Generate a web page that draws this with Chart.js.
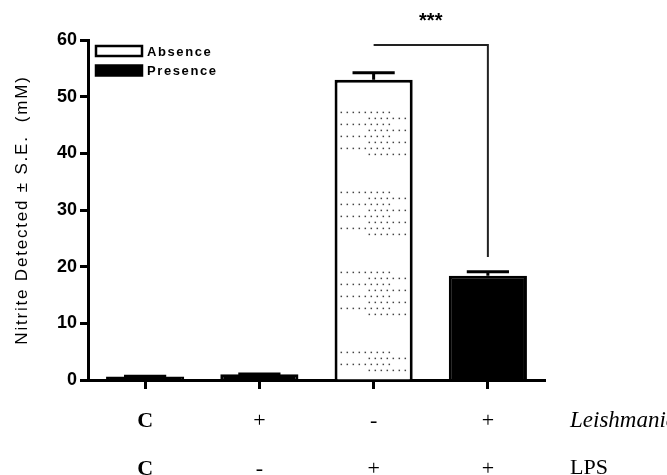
<!DOCTYPE html>
<html>
<head>
<meta charset="utf-8">
<script src="https://cdn.jsdelivr.net/npm/chart.js@4.4.0/dist/chart.umd.min.js"></script>
<style>
  body { margin: 0; background: #fff; }
  #wrap { width: 667px; height: 475px; }
</style>
</head>
<body>
<div id="wrap"><canvas id="myChart"></canvas></div>
<script>
// data
const leishmaniaRow = ["C", "+", "-", "+"];
const lpsRow = ["C", "-", "+", "+"];
const nitrite = [0.6, 1.0, 53.0, 18.4];
const nitriteSE = [0.05, 0.05, 1.2, 0.7];
const barFill = ["#000", "#000", "#fff", "#000"];
const yTicks = [0, 10, 20, 30, 40, 50, 60];
const rowNames = ["Leishmania", "LPS"];
const legendNames = ["Absence", "Presence"];
const legendFill = ["#fff", "#000"];
const signifFrom = 2, signifTo = 3, signifLevel = 59.1, signifDrop = 21.7;
const signifText = "***";

const labels = leishmaniaRow.map((v, i) => [v, lpsRow[i]]);

const extras = {
  id: "extras",
  afterDatasetsDraw(chart) {
    const c = chart.ctx;
    const x = chart.scales.x, y = chart.scales.y;
    const meta = chart.getDatasetMeta(0);
    c.save();

    // dotted fill of the white bar
    const b = meta.data[2];
    const left = b.x - b.width / 2 + 6, right = b.x + b.width / 2 - 6;
    const top = b.y + 3, bottom = b.base - 3;
    c.fillStyle = "#444";
    for (let band = top + 29; band < bottom; band += 80) {
      for (let r = 0; r < 8; r++) {
        const ry = band + r * 6;
        if (ry > bottom - 1) break;
        const x0 = r % 2 === 0 ? left : left + 28;
        const x1 = r % 2 === 0 ? right - 18 : right;
        for (let dx = x0; dx <= x1; dx += 6) c.fillRect(dx, ry, 1.5, 1.5);
      }
    }

    // error bars (upper only)
    c.strokeStyle = "#000";
    c.lineWidth = 3;
    nitrite.forEach((v, i) => {
      const bar = meta.data[i];
      const py = y.getPixelForValue(v + nitriteSE[i]);
      const half = bar.width * 0.27;
      c.beginPath();
      c.moveTo(bar.x, bar.y);
      c.lineTo(bar.x, py);
      c.moveTo(bar.x - half, py);
      c.lineTo(bar.x + half, py);
      c.stroke();
    });

    // significance bracket
    const sx0 = x.getPixelForValue(signifFrom), sx1 = x.getPixelForValue(signifTo);
    const sy = y.getPixelForValue(signifLevel), sy1 = y.getPixelForValue(signifDrop);
    c.strokeStyle = "#222";
    c.lineWidth = 2;
    c.beginPath();
    c.moveTo(sx0, sy);
    c.lineTo(sx1, sy);
    c.lineTo(sx1, sy1);
    c.stroke();
    c.fillStyle = "#000";
    c.font = "bold 20px Arial";
    c.textAlign = "center";
    c.textBaseline = "middle";
    c.fillText(signifText, (sx0 + sx1) / 2, sy - 24);

    // legend
    const lx = chart.chartArea.left + 8;
    c.font = "bold 13px Arial";
    c.letterSpacing = "1.6px";
    c.textAlign = "left";
    legendNames.forEach((name, i) => {
      const ly = chart.chartArea.top + 11 + i * 19.5;
      c.fillStyle = legendFill[i];
      c.fillRect(lx, ly - 5, 46, 10);
      c.strokeStyle = "#000";
      c.lineWidth = 2.5;
      c.strokeRect(lx, ly - 5, 46, 10);
      c.fillStyle = "#000";
      c.fillText(name, lx + 51, ly + 1);
    });
    c.letterSpacing = "0px";

    // row names to the right of the x labels
    const rx = chart.chartArea.right + 25;
    c.textBaseline = "middle";
    c.font = "italic 23px 'Liberation Serif'";
    c.fillText(rowNames[0], rx, 421);
    c.font = "22px 'Liberation Serif'";
    c.fillText(rowNames[1], rx, 468);

    // y title
    c.save();
    c.translate(22, (chart.chartArea.top + chart.chartArea.bottom) / 2);
    c.rotate(-Math.PI / 2);
    c.font = "17px Arial";
    c.letterSpacing = "1.8px";
    c.textAlign = "center";
    c.fillText("Nitrite Detected \u00b1 S.E.  (mM)", 0, 0);
    c.restore();

    c.restore();
  }
};

new Chart(document.getElementById("myChart"), {
  type: "bar",
  data: {
    labels: labels,
    datasets: [
      {
        data: nitrite,
        backgroundColor: barFill,
        borderColor: "#000",
        borderWidth: 3,
        borderSkipped: "bottom",
        barPercentage: 0.684,
        categoryPercentage: 1,
      },
    ],
  },
  options: {
    responsive: true,
    maintainAspectRatio: false,
    animation: false,
    layout: { padding: { top: 40, right: 122, left: 0, bottom: 0 } },
    plugins: { legend: { display: false }, tooltip: { enabled: false } },
    scales: {
      x: {
        offset: true,
        afterFit: (s) => { s.height = 95; },
        grid: { offset: false, drawOnChartArea: false, tickLength: 9, tickWidth: 3, tickColor: "#000" },
        border: { width: 3, color: "#000" },
        ticks: {
          color: "#000",
          autoSkip: false,
          maxRotation: 0,
          padding: 8,
          font: (ctx) => ({ family: "'Liberation Serif'", size: 22, weight: ctx.index === 0 ? "bold" : "normal", lineHeight: 2.2 }),
        },
      },
      y: {
        min: 0,
        max: 60,
        afterFit: (s) => { s.width = 88; },
        afterBuildTicks: (s) => { s.ticks = yTicks.map((v) => ({ value: v })); },
        grid: { drawOnChartArea: false, tickLength: 8, tickWidth: 3, tickColor: "#000" },
        border: { width: 3, color: "#000" },
        ticks: { color: "#000", padding: 3, font: { family: "Arial", size: 18, weight: "bold" } },
      },
    },
  },
  plugins: [extras],
});
</script>
</body>
</html>
